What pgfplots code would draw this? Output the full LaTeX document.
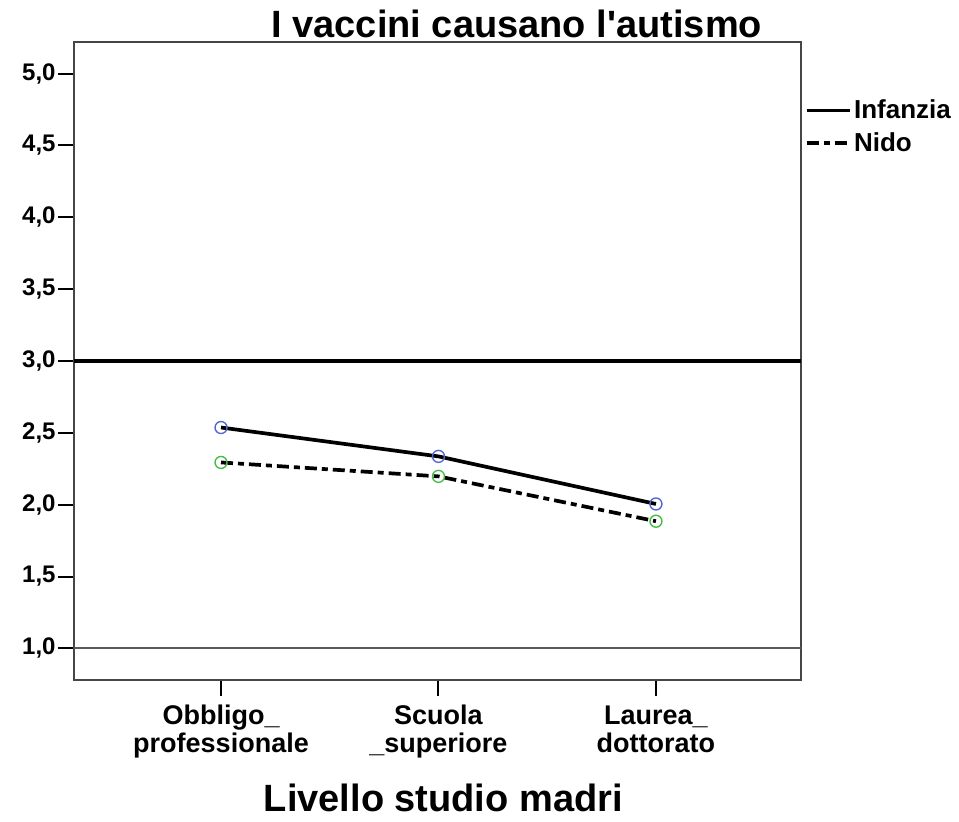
\documentclass[border=0pt]{standalone}
\usepackage{fontspec}
\setmainfont{Liberation Sans}
\usepackage{pgfplots}
\pgfplotsset{compat=1.18}
\definecolor{mblue}{RGB}{85,105,205}
\definecolor{mgreen}{RGB}{70,190,70}
\definecolor{axgray}{RGB}{70,70,70}
\begin{document}
\begin{tikzpicture}
\begin{axis}[
  name=ax,
  scale only axis,
  width=363.5pt, height=319pt,
  xmin=-0.676, xmax=2.667,
  ymin=0.78, ymax=5.22,
  axis line style={axgray, line width=1pt},
  xtick={0,1,2},
  xticklabels={{\strut Obbligo\_\\professionale},{\strut Scuola\\\_superiore},{\strut Laurea\_\\dottorato}},
  ytick={1,1.5,2,2.5,3,3.5,4,4.5,5},
  tick align=outside,
  major tick length=8pt,
  tick style={black, line width=1pt},
  xtick pos=bottom, ytick pos=left,
  /pgf/number format/.cd, use comma, fixed, fixed zerofill, precision=1, assume math mode=true,
  /pgfplots/.cd,
  yticklabel style={font=\fontsize{12}{14}\selectfont\bfseries, inner sep=1pt},
  xticklabel style={font=\fontsize{13.5}{14}\selectfont\bfseries, align=center, inner sep=0pt, yshift=-4.5pt},
  title={I vaccini causano l\textquotesingle autismo},
  title style={font=\fontsize{19}{22}\selectfont\bfseries, at={(axis description cs:0.609,1)}, anchor=base, yshift=-4pt, inner sep=0pt},
  xlabel={Livello studio madri},
  xlabel style={font=\fontsize{19}{22}\selectfont\bfseries, at={(axis description cs:0.508,0)}, anchor=base, yshift=-66pt, inner sep=0pt},
  legend cell align=left,
  legend style={draw=none, fill=none, inner sep=0pt, row sep=3.5pt,
    font=\fontsize{13}{14}\selectfont\bfseries,
    at={(axis description cs:1.0055,0.9135)}, anchor=north west,
    nodes={inner sep=1pt}},
  legend image code/.code={\draw[#1] (0pt,0pt) -- (21.5pt,0pt);},
  clip=false,
]
\addplot[black!65, line width=1pt, forget plot] coordinates {(-0.676,1) (2.667,1)};
\addplot[black, line width=2pt, forget plot] coordinates {(-0.676,3) (2.667,3)};
\addplot[black, line width=1.85pt, mark=o, mark size=3pt,
  mark options={solid, draw=mblue, line width=0.7pt}] coordinates {
  (0,2.537) (1,2.336) (2,2.005)};
\addlegendentry{Infanzia}
\addplot[black, line width=1.85pt, dash pattern=on 6pt off 2.5pt on 3pt off 2.5pt, mark=o, mark size=3pt,
  mark options={solid, draw=mgreen, line width=0.7pt}] coordinates {
  (0,2.294) (1,2.197) (2,1.885)};
\addlegendentry{Nido}
\end{axis}
\pgfresetboundingbox
\path ([xshift=-37pt,yshift=-71pt]ax.south west) rectangle ([xshift=79pt,yshift=21pt]ax.north east);
\end{tikzpicture}
\end{document}
